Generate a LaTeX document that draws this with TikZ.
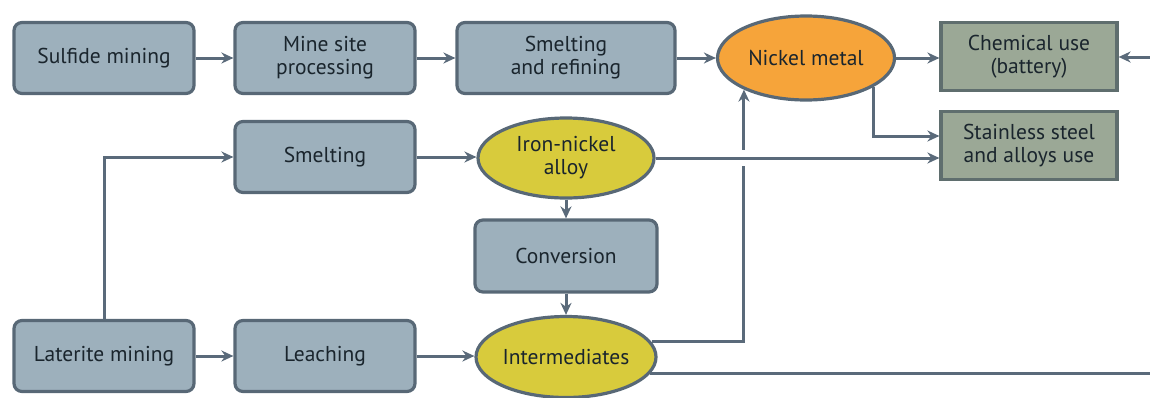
\documentclass[tikz,border=0pt]{standalone}
\usepackage{fontspec}
\setmainfont{PT Sans}
\usetikzlibrary{shapes.geometric,arrows.meta,calc}
\definecolor{boxfill}{HTML}{9DB0BC}
\definecolor{boxline}{HTML}{586876}
\definecolor{grnfill}{HTML}{9BA896}
\definecolor{grnline}{HTML}{5F6E6E}
\definecolor{orng}{HTML}{F6A43A}
\definecolor{yllw}{HTML}{D8CB3C}
\definecolor{txt}{HTML}{1A252D}
\definecolor{conn}{HTML}{5A6A7A}
\begin{document}
\begin{tikzpicture}[x=1pt,y=-1pt,
  every node/.style={font=\fontsize{21.5}{23}\selectfont, text=txt, align=center, line width=3.2pt, inner sep=0pt},
  procbox/.style={draw=boxline, fill=boxfill, rounded corners=8pt, minimum width=180pt, minimum height=71pt},
  usebox/.style={draw=grnline, fill=grnfill, minimum width=176pt, minimum height=68pt},
  ellnode/.style={ellipse, draw=boxline, minimum width=#1, inner sep=0pt},
  conn/.style={draw=conn, line width=3pt, -{Stealth[length=12pt,width=11pt]}},
  plain/.style={draw=conn, line width=3pt}
]
\useasboundingbox (0,0) rectangle (1150,397);
\node[procbox] (sulf) at (104,58) {Sulfide mining};
\node[procbox] (mine) at (325,58) {Mine site\\processing};
\node[procbox, minimum width=218pt] (sref) at (566,58) {Smelting\\and refining};
\node[ellnode=177pt, fill=orng, minimum height=84pt] (nickel) at (806,58) {Nickel metal};
\node[usebox] (chem) at (1029,56.5) {Chemical use\\(battery)};
\node[usebox] (stain) at (1029,145.5) {Stainless steel\\and alloys use};
\node[procbox] (smelt) at (325,157) {Smelting};
\node[ellnode=176pt, fill=yllw, minimum height=80pt] (iron) at (566,158) {Iron-nickel\\alloy};
\node[procbox, minimum width=182pt, minimum height=72pt] (conv) at (566,256) {Conversion};
\node[ellnode=180pt, fill=yllw, minimum height=81pt] (inter) at (566,357) {Intermediates};
\node[procbox] (lat) at (104,356) {Laterite mining};
\node[procbox] (leach) at (325,356) {Leaching};
\coordinate (rtop) at (1150,57);
\coordinate (rbot) at (1150,374);

\draw[conn] (sulf) -- (mine);
\draw[conn] (mine) -- (sref);
\draw[conn] (sref) -- (nickel);
\draw[conn] (nickel) -- (nickel -| chem.west);
\draw[conn] (rtop) -- (rtop -| chem.east);
\draw[conn] (nickel.-23) |- ([yshift=9.5pt]stain.west);
\draw[conn] (lat.north) |- (smelt.west);
\draw[conn] (smelt.east) -- (smelt.east -| iron.west);
\draw[conn] (iron) -- (conv);
\draw[conn] (conv) -- (inter);
\draw[conn] (lat) -- (leach);
\draw[conn] (leach.east) -- (leach.east -| inter.west);
\draw[conn] (inter.10) -| (nickel.-153);
\draw[white, line width=16pt] ($(iron.east -| nickel.-153)+(-2,0)$) -- ($(iron.east -| nickel.-153)+(2,0)$);
\draw[conn] (iron.east) -- (iron.east -| stain.west);
\draw[plain] (inter.-11) -- (inter.-11 -| rbot);
\end{tikzpicture}
\end{document}
